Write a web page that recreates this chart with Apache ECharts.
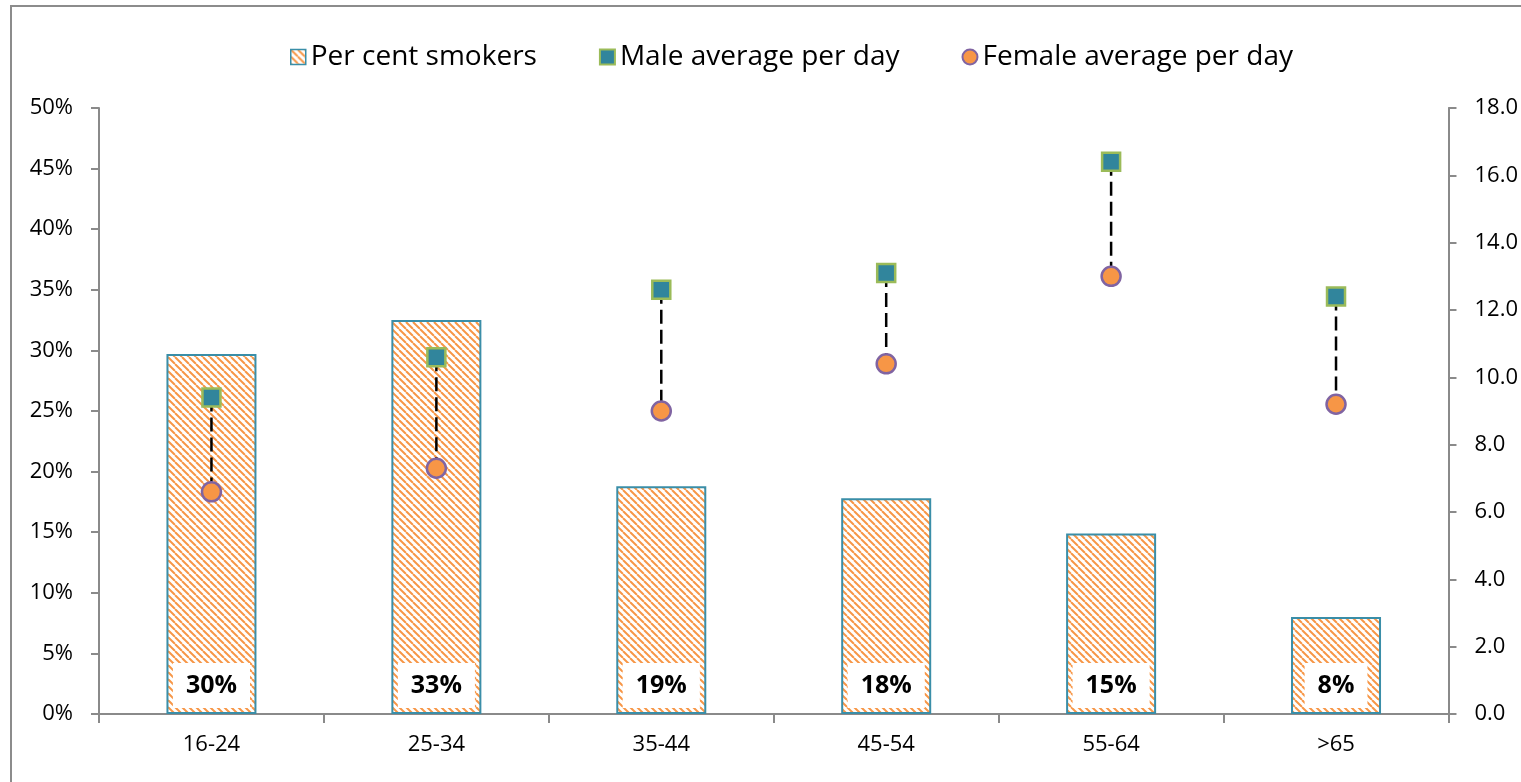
<!DOCTYPE html>
<html>
<head>
<meta charset="utf-8">
<script src="https://cdn.jsdelivr.net/npm/echarts@6/dist/echarts.min.js"></script>
<style>
html,body{margin:0;padding:0;background:#fff;}
#chart{width:1521px;height:782px;}
</style>
</head>
<body>
<div id="chart"></div>
<script>
// ---- data ----
const categories = ['16-24', '25-34', '35-44', '45-54', '55-64', '>65'];
const perCentSmokers = [0.297, 0.325, 0.188, 0.178, 0.149, 0.080];
const maleAvg = [9.4, 10.6, 12.6, 13.1, 16.4, 12.4];
const femaleAvg = [6.6, 7.3, 9.0, 10.4, 13.0, 9.2];
const seriesNames = ['Per cent smokers', 'Male average per day', 'Female average per day'];

const FONT = '"Open Sans", "Liberation Sans", sans-serif';

// hatch pattern
function makeHatch() {
  const n = 7;
  const c = document.createElement('canvas');
  c.width = n; c.height = n;
  const ctx = c.getContext('2d');
  ctx.fillStyle = '#ffffff';
  ctx.fillRect(0, 0, n, n);
  ctx.strokeStyle = '#F79646';
  ctx.lineWidth = 2;
  for (const o of [-n, 0, n]) {
    ctx.beginPath();
    ctx.moveTo(o, 0);
    ctx.lineTo(o + n, n);
    ctx.stroke();
  }
  return c;
}
const hatch = { image: makeHatch(), repeat: 'repeat' };

const chart = echarts.init(document.getElementById('chart'));
const axisGray = '#8a8a8a';

chart.setOption({
  backgroundColor: '#fff',
  animation: false,
  graphic: [{
    type: 'rect',
    shape: { x: 11, y: 6, width: 1600, height: 900 },
    style: { fill: 'none', stroke: '#8c8c8c', lineWidth: 2 },
    z: 100
  }],
  legend: {
    top: 38,
    left: 285,
    itemWidth: 15,
    itemHeight: 15,
    itemGap: 62,
    textStyle: { fontFamily: FONT, fontSize: 28, color: '#000' },
    data: [
      { name: seriesNames[0], icon: 'rect', itemStyle: { color: hatch, borderColor: '#3A8EA8', borderWidth: 1.5 } },
      { name: seriesNames[1], icon: 'rect', itemStyle: { color: '#31859C', borderColor: '#9BBB59', borderWidth: 2 } },
      { name: seriesNames[2], icon: 'circle', itemStyle: { color: '#F79646', borderColor: '#8064A2', borderWidth: 2 } }
    ]
  },
  grid: { left: 99, right: 71, top: 108, bottom: 68, containLabel: false },
  xAxis: {
    type: 'category',
    data: categories,
    axisLine: { show: true, lineStyle: { color: axisGray, width: 2 } },
    axisTick: { show: true, alignWithLabel: false, length: 9, lineStyle: { color: axisGray, width: 2 } },
    axisLabel: { fontFamily: FONT, fontSize: 22, color: '#000', margin: 20 },
    splitLine: { show: false }
  },
  yAxis: [{
    type: 'value',
    min: 0, max: 0.5, interval: 0.05,
    axisLine: { show: true, lineStyle: { color: axisGray, width: 2 } },
    axisTick: { show: true, length: 8, lineStyle: { color: axisGray, width: 2 } },
    axisLabel: {
      fontFamily: FONT, fontSize: 22, color: '#000', margin: 26,
      formatter: v => Math.round(v * 100) + '%'
    },
    splitLine: { show: false }
  }, {
    type: 'value',
    position: 'right',
    min: 0, max: 18, interval: 2,
    axisLine: { show: true, lineStyle: { color: axisGray, width: 2 } },
    axisTick: { show: true, length: 8, lineStyle: { color: axisGray, width: 2 } },
    axisLabel: {
      fontFamily: FONT, fontSize: 22, color: '#000', margin: 26,
      formatter: v => v.toFixed(1)
    },
    splitLine: { show: false }
  }],
  series: [{
    name: seriesNames[0],
    type: 'bar',
    barWidth: 90,
    data: perCentSmokers,
    itemStyle: { color: hatch, borderColor: '#3A8EA8', borderWidth: 2 },
    label: {
      show: true,
      position: 'insideBottom',
      distance: 6,
      backgroundColor: '#fff',
      padding: [10, 13],
      fontFamily: FONT,
      fontSize: 25,
      lineHeight: 25,
      fontWeight: 'bold',
      color: '#000',
      formatter: p => Math.round(p.value * 100) + '%'
    },
    z: 2
  }, {
    name: 'connector',
    type: 'custom',
    yAxisIndex: 1,
    data: categories.map((c, i) => [i, maleAvg[i], femaleAvg[i]]),
    encode: { x: 0, y: [1, 2] },
    renderItem: (params, api) => {
      const i = api.value(0);
      const p1 = api.coord([i, api.value(1)]);
      const p2 = api.coord([i, api.value(2)]);
      return {
        type: 'line',
        shape: { x1: p1[0], y1: p1[1], x2: p2[0], y2: p2[1] },
        style: { stroke: '#000', lineWidth: 2.5, lineDash: [14, 6], fill: null }
      };
    },
    z: 3
  }, {
    name: seriesNames[1],
    type: 'scatter',
    yAxisIndex: 1,
    symbol: 'rect',
    symbolSize: 18,
    data: maleAvg,
    itemStyle: { color: '#31859C', borderColor: '#9BBB59', borderWidth: 2.5, opacity: 1 },
    z: 4
  }, {
    name: seriesNames[2],
    type: 'scatter',
    yAxisIndex: 1,
    symbol: 'circle',
    symbolSize: 19,
    data: femaleAvg,
    itemStyle: { color: '#F79646', borderColor: '#8064A2', borderWidth: 2.5, opacity: 1 },
    z: 4
  }]
});
</script>
</body>
</html>
